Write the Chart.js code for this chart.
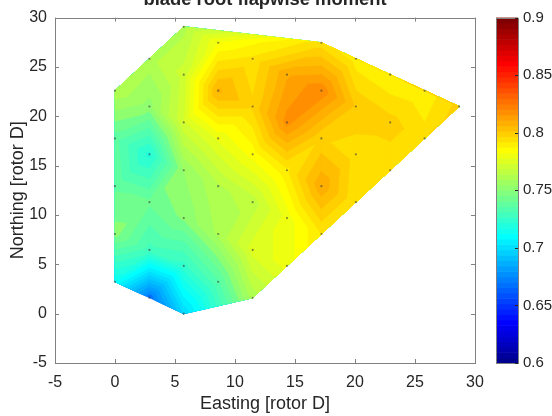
<!DOCTYPE html>
<html>
<head>
<meta charset="utf-8">
<title>blade root flapwise moment</title>
<script src="https://cdn.jsdelivr.net/npm/chart.js@4.4.1/dist/chart.umd.min.js"></script>
<style>
  html, body { margin: 0; padding: 0; background: #ffffff; }
  canvas { display: block; }
</style>
</head>
<body>
<canvas id="myChart" width="552" height="416"></canvas>
<script>
// turbine positions [rotor D] and the blade root flapwise moment at each one

const easting = [
  0, 0, 0, 0, 0,
  2.87, 2.87, 2.87, 2.87, 2.87, 2.87,
  5.73, 5.73, 5.73, 5.73, 5.73, 5.73, 5.73,
  8.6, 8.6, 8.6, 8.6, 8.6, 8.6,
  11.47, 11.47, 11.47, 11.47, 11.47, 11.47,
  14.33, 14.33, 14.33, 14.33, 14.33,
  17.2, 17.2, 17.2, 17.2, 17.2,
  20.07, 20.07, 20.07, 20.07,
  22.93, 22.93, 22.93,
  25.8, 25.8,
  28.67
];
const northing = [
  3.23, 8.07, 12.92, 17.76, 22.6,
  1.61, 6.46, 11.3, 16.15, 20.99, 25.83,
  0, 4.84, 9.69, 14.53, 19.38, 24.22, 29.07,
  3.23, 8.07, 12.92, 17.76, 22.6, 27.45,
  1.61, 6.46, 11.3, 16.15, 20.99, 25.83,
  4.84, 9.69, 14.53, 19.38, 24.22,
  8.07, 12.92, 17.76, 22.6, 27.45,
  11.3, 16.15, 20.99, 25.83,
  14.53, 19.38, 24.22,
  17.76, 22.6,
  20.99
];
const moment = [
  0.715, 0.752, 0.744, 0.742, 0.764,
  0.670, 0.733, 0.746, 0.723, 0.753, 0.763,
  0.700, 0.728, 0.751, 0.755, 0.774, 0.772, 0.763,
  0.739, 0.761, 0.764, 0.781, 0.811, 0.785,
  0.762, 0.777, 0.767, 0.787, 0.801, 0.796,
  0.782, 0.782, 0.794, 0.822, 0.814,
  0.795, 0.814, 0.801, 0.824, 0.797,
  0.795, 0.797, 0.804, 0.792,
  0.797, 0.802, 0.790,
  0.797, 0.791,
  0.802
];

const xTicks = [-5, 0, 5, 10, 15, 20, 25, 30];
const yTicks = [-5, 0, 5, 10, 15, 20, 25, 30];
const cbTicks = [0.6, 0.65, 0.7, 0.75, 0.8, 0.85, 0.9];
const cbLabels = ['0.6', '0.65', '0.7', '0.75', '0.8', '0.85', '0.9'];

const cMin = 0.6, cMax = 0.9;   // colour limits
const levelStep = 5;            // contour step in 1/1000

const FONT = '"Liberation Sans", Arial, Helvetica, sans-serif';
const TEXT = '#262626';
const LINE = '#808080';

// MATLAB jet(64)
function jet(i) {
  const u = k => (k < 0 || k > 46) ? 0 : (k < 16 ? (k + 1) / 16 : (k < 31 ? 1 : (47 - k) / 16));
  return 'rgb(' + Math.round(255 * u(i - 24)) + ',' + Math.round(255 * u(i - 8)) + ',' + Math.round(255 * u(i + 8)) + ')';
}
function levelColor(L) {
  const i = Math.floor((L - cMin) / (cMax - cMin) * 64 + 1e-9);
  return jet(Math.max(0, Math.min(63, i)));
}

// Delaunay (Bowyer-Watson), good enough for a few dozen turbines
function triangulate(xs, ys) {
  const pts = xs.map((x, i) => [x, ys[i]]);
  const n = pts.length;
  pts.push([-1e5, -1e5], [1e5, -1e5], [0, 1e5]);
  const circ = t => {
    const [ax, ay] = pts[t[0]], [bx, by] = pts[t[1]], [cx, cy] = pts[t[2]];
    const d = 2 * (ax * (by - cy) + bx * (cy - ay) + cx * (ay - by));
    const a2 = ax * ax + ay * ay, b2 = bx * bx + by * by, c2 = cx * cx + cy * cy;
    const ux = (a2 * (by - cy) + b2 * (cy - ay) + c2 * (ay - by)) / d;
    const uy = (a2 * (cx - bx) + b2 * (ax - cx) + c2 * (bx - ax)) / d;
    return [ux, uy, (ax - ux) ** 2 + (ay - uy) ** 2];
  };
  let tris = [[n, n + 1, n + 2]];
  for (let i = 0; i < n; i++) {
    const [px, py] = pts[i];
    const bad = [], keep = [];
    tris.forEach(t => {
      const c = t.c || (t.c = circ(t));
      ((px - c[0]) ** 2 + (py - c[1]) ** 2 < c[2] ? bad : keep).push(t);
    });
    const edges = [];
    bad.forEach(t => {
      for (let k = 0; k < 3; k++) {
        const a = t[k], b = t[(k + 1) % 3];
        if (!bad.some(o => o !== t && o.includes(a) && o.includes(b))) edges.push([a, b]);
      }
    });
    tris = keep;
    edges.forEach(e => tris.push([e[0], e[1], i]));
  }
  return tris.filter(t => t.every(k => k < n)).map(t => {
    const [a, b, c] = t;
    const cr = (xs[b] - xs[a]) * (ys[c] - ys[a]) - (ys[b] - ys[a]) * (xs[c] - xs[a]);
    return cr > 0 ? [a, b, c] : [a, c, b];
  });
}

// part of a polygon where v >= level
function clipAbove(poly, level) {
  const out = [];
  for (let i = 0; i < poly.length; i++) {
    const a = poly[i], b = poly[(i + 1) % poly.length];
    const ain = a.v >= level, bin = b.v >= level;
    if (ain) out.push(a);
    if (ain !== bin) {
      const t = (level - a.v) / (b.v - a.v);
      out.push({x: a.x + t * (b.x - a.x), y: a.y + t * (b.y - a.y), v: level});
    }
  }
  return out;
}

const contourPlugin = {
  id: 'contourf',
  beforeDatasetsDraw(chart) {
    const {ctx, scales: {x, y}} = chart;
    const tris = chart.$tris || (chart.$tris = triangulate(easting, northing));
    const polys = tris.map(t => t.map(k => ({
      x: x.getPixelForValue(easting[k]),
      y: y.getPixelForValue(northing[k]),
      v: moment[k]
    })));
    const vmin = Math.min(...moment), vmax = Math.max(...moment);
    const k0 = Math.floor(vmin * 1000 / levelStep + 1e-9);
    ctx.save();
    ctx.lineWidth = 0.7;
    ctx.lineJoin = 'round';
    for (let k = k0; k * levelStep / 1000 <= vmax; k++) {
      const L = k * levelStep / 1000;
      ctx.beginPath();
      polys.forEach(p => {
        const c = clipAbove(p, L);
        if (c.length < 3) return;
        ctx.moveTo(c[0].x, c[0].y);
        for (let j = 1; j < c.length; j++) ctx.lineTo(c[j].x, c[j].y);
        ctx.closePath();
      });
      ctx.fillStyle = ctx.strokeStyle = levelColor(L);
      ctx.fill();
      ctx.stroke();
    }
    ctx.restore();
  }
};

const framePlugin = {
  id: 'frame',
  afterDraw(chart) {
    const {ctx, chartArea: a, scales: {x, y, cb}} = chart;
    ctx.save();
    // axes box with inward ticks
    ctx.strokeStyle = LINE;
    ctx.lineWidth = 1;
    ctx.strokeRect(Math.round(a.left) + 0.5, Math.round(a.top) + 0.5,
                   Math.round(a.right - a.left), Math.round(a.bottom - a.top));
    ctx.beginPath();
    xTicks.forEach(v => {
      const px = Math.round(x.getPixelForValue(v)) + 0.5;
      ctx.moveTo(px, a.bottom); ctx.lineTo(px, a.bottom - 4);
      ctx.moveTo(px, a.top); ctx.lineTo(px, a.top + 4);
    });
    yTicks.forEach(v => {
      const py = Math.round(y.getPixelForValue(v)) + 0.5;
      ctx.moveTo(a.left, py); ctx.lineTo(a.left + 4, py);
      ctx.moveTo(a.right, py); ctx.lineTo(a.right - 4, py);
    });
    ctx.stroke();

    // colorbar
    const bx = Math.round(a.right) + 21, bw = 22;
    for (let i = 0; i < 64; i++) {
      const y0 = cb.getPixelForValue(cMin + (cMax - cMin) * i / 64);
      const y1 = cb.getPixelForValue(cMin + (cMax - cMin) * (i + 1) / 64);
      ctx.fillStyle = jet(i);
      ctx.fillRect(bx, y1, bw, y0 - y1 + 0.6);
    }
    const top = Math.round(cb.getPixelForValue(cMax)), bot = Math.round(cb.getPixelForValue(cMin));
    ctx.strokeStyle = LINE;
    ctx.strokeRect(bx + 0.5, top + 0.5, bw, bot - top);
    ctx.strokeStyle = '#262626';
    ctx.beginPath();
    cbTicks.forEach(v => {
      const py = Math.round(cb.getPixelForValue(v)) + 0.5;
      ctx.moveTo(bx + bw - 3, py); ctx.lineTo(bx + bw, py);
    });
    ctx.stroke();
    ctx.fillStyle = TEXT;
    ctx.font = '15px ' + FONT;
    ctx.textAlign = 'left';
    ctx.textBaseline = 'middle';
    cbTicks.forEach((v, i) => ctx.fillText(cbLabels[i], bx + bw + 5, cb.getPixelForValue(v)));

    // title, pushed against the top edge like the original
    ctx.font = 'bold 18.4px ' + FONT;
    ctx.textAlign = 'center';
    ctx.textBaseline = 'alphabetic';
    ctx.fillText('blade root flapwise moment', (a.left + a.right) / 2, 5);
    ctx.restore();
  }
};

const ctx = document.getElementById('myChart');

new Chart(ctx, {
  type: 'scatter',
  data: {
    datasets: [{
      label: 'turbines',
      data: easting.map((e, i) => ({x: e, y: northing[i]})),
      pointRadius: 1.1,
      pointBackgroundColor: 'rgba(60,60,60,0.6)',
      pointBorderWidth: 0,
      pointHoverRadius: 1.1
    }]
  },
  options: {
    responsive: false,
    animation: false,
    devicePixelRatio: 1,
    layout: { padding: { top: 10, right: 77, bottom: 0, left: 0 } },
    plugins: {
      legend: { display: false },
      tooltip: { enabled: false },
      title: { display: false }
    },
    scales: {
      x: {
        type: 'linear',
        position: 'bottom',
        min: -5, max: 30,
        afterBuildTicks: s => { s.ticks = xTicks.map(v => ({value: v})); },
        afterFit: s => { s.height = 53; },
        grid: { display: false, drawTicks: false },
        border: { display: false },
        ticks: {
          color: TEXT, padding: 9.5, maxRotation: 0, autoSkip: false,
          font: { family: FONT, size: 16 },
          callback: v => String(v)
        },
        title: {
          display: true, text: 'Easting [rotor D]', color: TEXT,
          font: { family: FONT, size: 18 },
          padding: { top: 0, bottom: 1.5 }
        }
      },
      y: {
        type: 'linear',
        position: 'left',
        min: -5, max: 30,
        afterBuildTicks: s => { s.ticks = yTicks.map(v => ({value: v})); },
        afterFit: s => { s.width = 55; },
        grid: { display: false, drawTicks: false },
        border: { display: false },
        ticks: {
          color: TEXT, padding: 8, autoSkip: false,
          font: { family: FONT, size: 16 },
          callback: v => String(v)
        },
        title: {
          display: true, text: 'Northing [rotor D]', color: TEXT,
          font: { family: FONT, size: 18 },
          padding: { top: 7, bottom: 0 }
        }
      },
      cb: {
        type: 'linear',
        display: false,
        position: 'right',
        min: cMin, max: cMax
      }
    }
  },
  plugins: [contourPlugin, framePlugin]
});
</script>
</body>
</html>
